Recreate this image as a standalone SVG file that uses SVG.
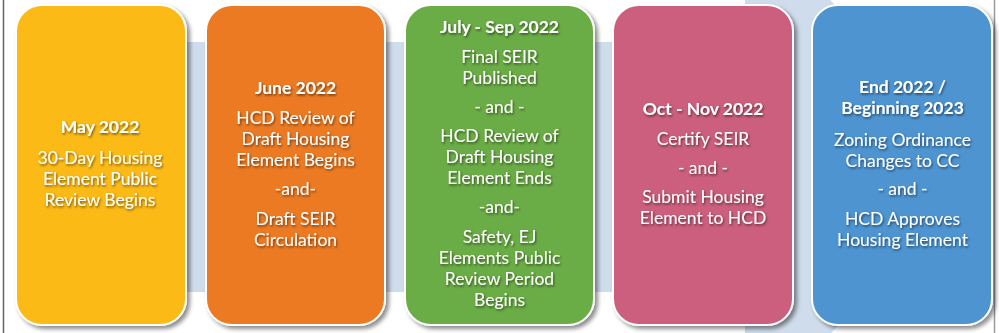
<svg xmlns="http://www.w3.org/2000/svg" width="999" height="333" viewBox="0 0 999 333">
<defs>
<filter id="cardShadow" x="-10%" y="-10%" width="125%" height="125%">
<feDropShadow dx="3" dy="3" stdDeviation="2" flood-color="#000" flood-opacity="0.45"/>
</filter>
<filter id="txtShadow" x="-10%" y="-20%" width="120%" height="150%">
<feDropShadow dx="1" dy="1.5" stdDeviation="1" flood-color="#000" flood-opacity="0.55"/>
</filter>
</defs>
<style>
.card{stroke:#fff;stroke-width:2;filter:url(#cardShadow)}
.t{font-family:Lato,"Open Sans","Liberation Sans",sans-serif;font-size:17.5px;fill:#fff;text-anchor:middle;filter:url(#txtShadow)}
.b{font-weight:bold}
</style>
<rect width="999" height="333" fill="#fff"/>
<g id="arrow">
<polygon points="30,42 745,42 745,-89 990,167 745,423 745,292 30,292" fill="#CFDCEB"/>
</g>
<line x1="3.5" y1="0" x2="3.5" y2="333" stroke="#666" stroke-width="1.5"/>
<line x1="994.5" y1="0" x2="994.5" y2="333" stroke="#9a9a9a" stroke-width="1.5"/>

<g id="n1">
<rect class="card" x="16" y="5" width="170" height="320" rx="26" fill="#FBBA17"/>
<text class="t" x="100" y="133"><tspan class="b">May 2022</tspan><tspan x="100" y="164">30-Day Housing</tspan><tspan x="100" y="185">Element Public</tspan><tspan x="100" y="206">Review Begins</tspan></text>
</g>
<g id="n2">
<rect class="card" x="206" y="5" width="179" height="320" rx="26" fill="#EC7A23"/>
<text class="t" x="295.5" y="94"><tspan class="b">June 2022</tspan><tspan x="295.5" y="124">HCD Review of</tspan><tspan x="295.5" y="145">Draft Housing</tspan><tspan x="295.5" y="166">Element Begins</tspan><tspan x="295.5" y="195">-and-</tspan><tspan x="295.5" y="225">Draft SEIR</tspan><tspan x="295.5" y="246">Circulation</tspan></text>
</g>
<g id="n3">
<rect class="card" x="405" y="5" width="189" height="320" rx="26" fill="#6AAC44"/>
<text class="t" x="499.5" y="33"><tspan class="b">July - Sep 2022</tspan><tspan x="499.5" y="63">Final SEIR</tspan><tspan x="499.5" y="84">Published</tspan><tspan x="499.5" y="113">- and -</tspan><tspan x="499.5" y="142">HCD Review of</tspan><tspan x="499.5" y="163">Draft Housing</tspan><tspan x="499.5" y="184">Element Ends</tspan><tspan x="499.5" y="213">-and-</tspan><tspan x="499.5" y="243">Safety, EJ</tspan><tspan x="499.5" y="264">Elements Public</tspan><tspan x="499.5" y="285">Review Period</tspan><tspan x="499.5" y="306">Begins</tspan></text>
</g>
<g id="n4">
<rect class="card" x="613" y="5" width="180" height="320" rx="26" fill="#CB5E7D"/>
<text class="t" x="703" y="115"><tspan class="b">Oct - Nov 2022</tspan><tspan x="703" y="145">Certify SEIR</tspan><tspan x="703" y="174">- and -</tspan><tspan x="703" y="203">Submit Housing</tspan><tspan x="703" y="224">Element to HCD</tspan></text>
</g>
<g id="n5">
<rect class="card" x="812" y="5" width="180" height="320" rx="26" fill="#4E94D1"/>
<text class="t" x="902.5" y="93"><tspan class="b">End 2022 /</tspan><tspan x="902.5" y="114" class="b">Beginning 2023</tspan><tspan x="902.5" y="146">Zoning Ordinance</tspan><tspan x="902.5" y="167">Changes to CC</tspan><tspan x="902.5" y="195">- and -</tspan><tspan x="902.5" y="225">HCD Approves</tspan><tspan x="902.5" y="246">Housing Element</tspan></text>
</g>
</svg>
